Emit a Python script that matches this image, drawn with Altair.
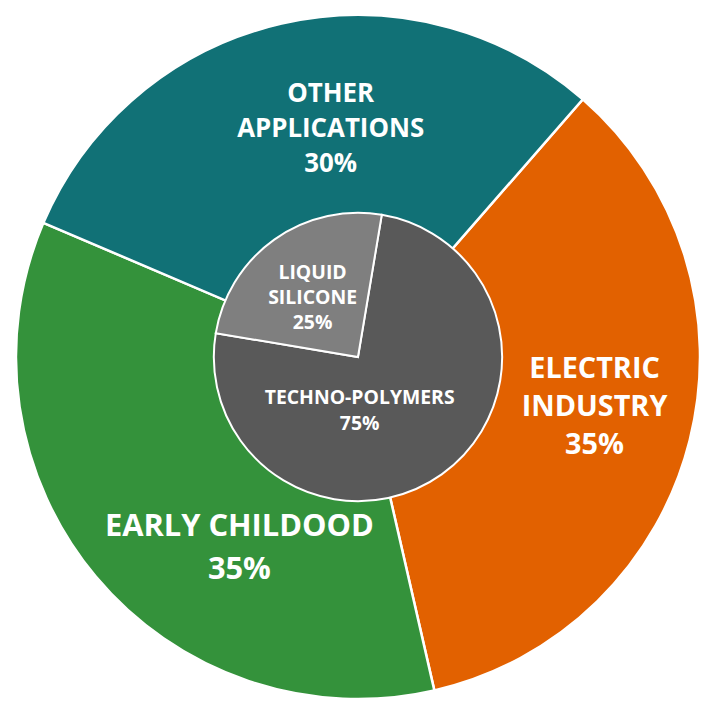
import math
import altair as alt
import pandas as pd

# ---- data ----
outer_cats = ["ELECTRIC INDUSTRY", "EARLY CHILDOOD", "OTHER APPLICATIONS"]
outer_vals = [35, 35, 30]
outer_text = ["ELECTRIC\nINDUSTRY", "EARLY CHILDOOD", "OTHER\nAPPLICATIONS"]
outer_colors = ["#E26100", "#34923B", "#117176"]

inner_cats = ["TECHNO-POLYMERS", "LIQUID SILICONE"]
inner_vals = [75, 25]
inner_text = ["TECHNO-POLYMERS", "LIQUID\nSILICONE"]
inner_colors = ["#595959", "#7F7F7F"]

outer_df = pd.DataFrame({
    "cat": outer_cats, "value": outer_vals, "idx": list(range(len(outer_cats))),
    "label": [f"{t}\n{v}%" for t, v in zip(outer_text, outer_vals)],
})
inner_df = pd.DataFrame({
    "cat": inner_cats, "value": inner_vals, "idx": list(range(len(inner_cats))),
    "label": [f"{t}\n{v}%" for t, v in zip(inner_text, inner_vals)],
})

W = 696
CX, CY = 352, 349      # pie centre inside the view
R_OUT = 344
R_IN = 145
FONT = "Open Sans"

outer_start = math.radians(41.1)
inner_start = math.radians(9.5)

def theta_enc(start):
    return alt.Theta("value:Q", stack=True,
                     scale=alt.Scale(range=[start, start + 2 * math.pi]))

# soft shadow behind the outer ring
shadow = alt.Chart(pd.DataFrame({"k": [0]})).mark_circle(
    size=math.pi * 346 ** 2, color="#c4c4c4", opacity=0.7
).encode(x=alt.value(CX), y=alt.value(CY + 2))

outer_base = alt.Chart(outer_df)
outer_arc = outer_base.mark_arc(radius=R_OUT, stroke="white", strokeWidth=2.5).encode(
    theta=theta_enc(outer_start),
    order=alt.Order("idx:Q"),
    color=alt.Color("cat:N", scale=alt.Scale(domain=outer_cats, range=outer_colors), legend=None),
    x=alt.value(CX), y=alt.value(CY),
)

def label_layer(base, start, cat, nlines, radius, size, lh, dx, dy):
    # Vega anchors the first line of multi-line text; shift so the block is centred
    return base.transform_calculate(
        lbl=f"datum.cat == '{cat}' ? datum.label : ''"
    ).mark_text(
        radius=radius, font=FONT, fontWeight="bold", fontSize=size, color="white",
        lineBreak="\n", lineHeight=lh, align="center", baseline="middle",
        dx=dx, dy=dy - (nlines - 1) * lh / 2,
    ).encode(
        theta=theta_enc(start),
        order=alt.Order("idx:Q"),
        text="lbl:N",
        x=alt.value(CX), y=alt.value(CY),
    )

outer_layer = alt.layer(
    outer_arc,
    label_layer(outer_base, outer_start, "ELECTRIC INDUSTRY", 3, 235, 29, 38, 10, -7),
    label_layer(outer_base, outer_start, "EARLY CHILDOOD", 2, 235, 31, 43, 61, 42),
    label_layer(outer_base, outer_start, "OTHER APPLICATIONS", 3, 235, 26, 35, 25, 0),
)

inner_base = alt.Chart(inner_df)
inner_arc = inner_base.mark_arc(radius=R_IN, stroke="white", strokeWidth=2).encode(
    theta=theta_enc(inner_start),
    order=alt.Order("idx:Q"),
    color=alt.Color("cat:N", scale=alt.Scale(domain=inner_cats, range=inner_colors), legend=None),
    x=alt.value(CX), y=alt.value(CY),
)
inner_layer = alt.layer(
    inner_arc,
    label_layer(inner_base, inner_start, "TECHNO-POLYMERS", 2, 70, 19.5, 26, -39, -3),
    label_layer(inner_base, inner_start, "LIQUID SILICONE", 3, 70, 19.5, 25, -5, -2),
)

chart = alt.layer(shadow, outer_layer, inner_layer).resolve_scale(
    theta="independent", color="independent"
).properties(
    width=W, height=W, padding=0, autosize=alt.AutoSizeParams(type="none")
).configure_view(stroke=None)

chart.save("out.html", embed_options={"renderer": "svg", "actions": False})
